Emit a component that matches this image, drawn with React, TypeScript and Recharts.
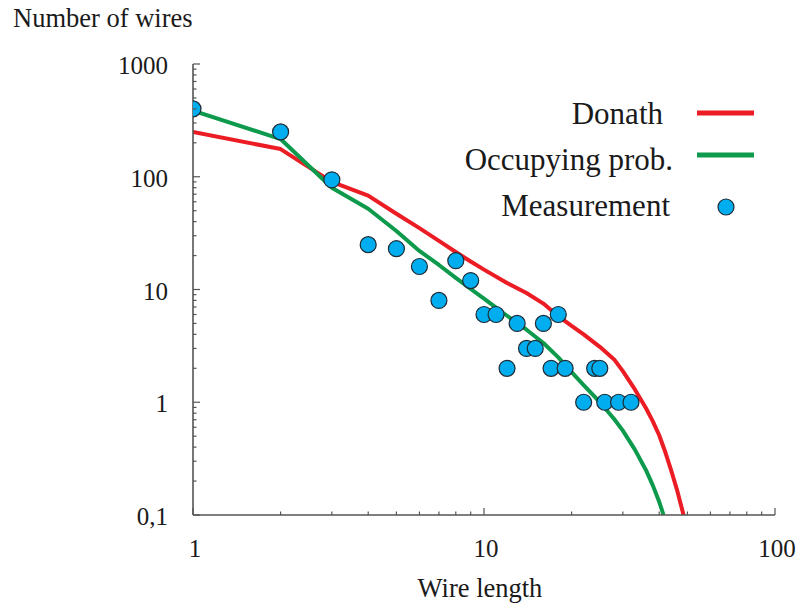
import React from 'react';
import { ComposedChart, Line, Scatter, XAxis, YAxis } from 'recharts';

const measureX = [1, 2, 3, 4, 5, 6, 7, 8, 9, 10, 11, 12, 13, 14, 15, 16, 17, 18, 19, 22, 24, 25, 26, 29, 32];
const measureY = [400, 250, 94, 25, 23, 16, 8, 18, 12, 6, 6, 2, 5, 3, 3, 5, 2, 6, 2, 1, 2, 2, 1, 1, 1];

const donathX = [1, 2, 3, 4, 5, 6, 7, 8, 9, 10, 12, 14, 16, 18, 20, 22, 25, 28, 30, 33, 36, 38, 40, 42, 44, 46, 48.5];
const donathY = [250, 176, 90, 68, 47, 35, 27, 21.5, 17.7, 15, 11.4, 9.3, 7.5, 5.8, 4.75, 4.0, 3.1, 2.4, 1.89, 1.3, 0.89, 0.68, 0.51, 0.36, 0.248, 0.169, 0.1];

const occX = [1, 2, 3, 4, 5, 6, 7, 8, 9, 10, 11, 12, 14, 16, 18, 20, 22, 24, 26, 28, 30, 33, 36, 38, 40, 41.4];
const occY = [386, 216, 80, 52, 33, 22, 16.5, 12.7, 10.1, 8.3, 6.9, 5.85, 4.4, 3.35, 2.5, 1.85, 1.42, 1.12, 0.89, 0.71, 0.56, 0.38, 0.251, 0.184, 0.131, 0.1];

const xTicks = [1, 2, 3, 4, 5, 6, 7, 8, 9, 10, 20, 30, 40, 50, 60, 70, 80, 90, 100];
const yTicks = [0.1, 0.2, 0.3, 0.4, 0.5, 0.6, 0.7, 0.8, 0.9, 1, 2, 3, 4, 5, 6, 7, 8, 9, 10, 20, 30, 40, 50, 60, 70, 80, 90, 100, 200, 300, 400, 500, 600, 700, 800, 900, 1000];
const xMajor: Record<number, string> = { 1: '1', 10: '10', 100: '100' };
const yMajor: Record<number, string> = { 0.1: '0,1', 1: '1', 10: '10', 100: '100', 1000: '1000' };

const measureData = measureX.map((x, i) => ({ x, y: measureY[i] }));
const donathData = donathX.map((x, i) => ({ x, y: donathY[i] }));
const occData = occX.map((x, i) => ({ x, y: occY[i] }));

const RED = '#ec1c24';
const GREEN = '#0e9a4c';
const BLUE = '#00aeef';
const AXIS = '#555555';
const FONT = '"Liberation Serif", "Times New Roman", serif';

const isMajor = (v: number, m: Record<number, string>) => m[v] !== undefined;

const BottomTick = (p: any) => {
  const v = p.payload.value;
  const major = isMajor(v, xMajor);
  return (
    <g>
      <line x1={p.x} y1={p.y} x2={p.x} y2={p.y - (major ? 7 : 3.5)} stroke={AXIS} strokeWidth={1.2} />
      {major && (
        <text x={p.x + 2} y={p.y + 42} textAnchor="middle" fontFamily={FONT} fontSize={25} fill="#1a1a1a">
          {xMajor[v]}
        </text>
      )}
    </g>
  );
};
const TopTick = (p: any) => {
  const v = p.payload.value;
  const major = isMajor(v, xMajor);
  return <line x1={p.x} y1={p.y} x2={p.x} y2={p.y + (major ? 7 : 3.5)} stroke={AXIS} strokeWidth={1.2} />;
};
const LeftTick = (p: any) => {
  const v = p.payload.value;
  const major = isMajor(v, yMajor);
  return (
    <g>
      <line x1={p.x} y1={p.y} x2={p.x + (major ? 7 : 3.5)} y2={p.y} stroke={AXIS} strokeWidth={1.2} />
      {major && (
        <text x={p.x - 25} y={p.y + 10} textAnchor="end" fontFamily={FONT} fontSize={25} fill="#1a1a1a">
          {yMajor[v]}
        </text>
      )}
    </g>
  );
};
const RightTick = (p: any) => {
  const v = p.payload.value;
  const major = isMajor(v, yMajor);
  return <line x1={p.x} y1={p.y} x2={p.x - (major ? 7 : 3.5)} y2={p.y} stroke={AXIS} strokeWidth={1.2} />;
};

const Dot = (p: any) => (
  <circle cx={p.cx} cy={p.cy} r={8} fill={BLUE} stroke="#1f2a33" strokeWidth={1.2} />
);

const legendItems = [
  { name: 'Donath', kind: 'line', color: RED },
  { name: 'Occupying prob.', kind: 'line', color: GREEN },
  { name: 'Measurement', kind: 'dot', color: BLUE },
];
const legendLayout = [
  { textRight: 663, baseline: 124, sampleY: 113 },
  { textRight: 673, baseline: 170, sampleY: 155 },
  { textRight: 670, baseline: 216, sampleY: 207 },
];

export default function App() {
  return (
    <div style={{ position: 'absolute', left: 0, top: 0, width: 801, height: 604, background: '#fff' }}>
      <ComposedChart width={801} height={604} margin={{ top: 64, right: 26, bottom: 0, left: 0 }}>
        <XAxis xAxisId="b" dataKey="x" type="number" scale="log" domain={[1, 100]} allowDataOverflow
          ticks={xTicks} interval={0} height={89} tickSize={0} tickMargin={0} tick={BottomTick}
          axisLine={{ stroke: AXIS, strokeWidth: 1.6 }} tickLine={false} />
        <XAxis xAxisId="t" orientation="top" dataKey="x" type="number" scale="log" domain={[1, 100]} allowDataOverflow
          ticks={xTicks} interval={0} height={0} tickSize={0} tickMargin={0} tick={TopTick}
          axisLine={{ stroke: AXIS, strokeWidth: 1.6 }} tickLine={false} />
        <YAxis yAxisId="l" dataKey="y" type="number" scale="log" domain={[0.1, 1000]} allowDataOverflow
          ticks={yTicks} interval={0} width={193} tickSize={0} tickMargin={0} tick={LeftTick}
          axisLine={{ stroke: AXIS, strokeWidth: 1.6 }} tickLine={false} />
        <YAxis yAxisId="r" orientation="right" dataKey="y" type="number" scale="log" domain={[0.1, 1000]} allowDataOverflow
          ticks={yTicks} interval={0} width={0} tickSize={0} tickMargin={0} tick={RightTick}
          axisLine={{ stroke: AXIS, strokeWidth: 1.6 }} tickLine={false} />
        <Line xAxisId="b" yAxisId="l" data={donathData} dataKey="y" type="linear" stroke={RED} strokeWidth={4}
          dot={false} isAnimationActive={false} strokeLinejoin="round" />
        <Line xAxisId="b" yAxisId="l" data={occData} dataKey="y" type="linear" stroke={GREEN} strokeWidth={4}
          dot={false} isAnimationActive={false} strokeLinejoin="round" />
        <Scatter xAxisId="b" yAxisId="l" data={measureData} dataKey="y" shape={Dot} isAnimationActive={false} />
      </ComposedChart>
      <svg width={801} height={604} style={{ position: 'absolute', left: 0, top: 0, pointerEvents: 'none' }}>
        <text x={13} y={27} fontFamily={FONT} fontSize={26.5} fill="#1a1a1a">Number of wires</text>
        <text x={480} y={597} textAnchor="middle" fontFamily={FONT} fontSize={26.5} fill="#1a1a1a">Wire length</text>
        {legendItems.map((it, i) => {
          const lay = legendLayout[i];
          return (
            <g key={it.name}>
              <text x={lay.textRight} y={lay.baseline} textAnchor="end" fontFamily={FONT} fontSize={31} fill="#1a1a1a">{it.name}</text>
              {it.kind === 'line' ? (
                <line x1={697} x2={754} y1={lay.sampleY} y2={lay.sampleY} stroke={it.color} strokeWidth={5} />
              ) : (
                <circle cx={726} cy={lay.sampleY} r={8} fill={it.color} stroke="#1f2a33" strokeWidth={1.2} />
              )}
            </g>
          );
        })}
      </svg>
    </div>
  );
}
